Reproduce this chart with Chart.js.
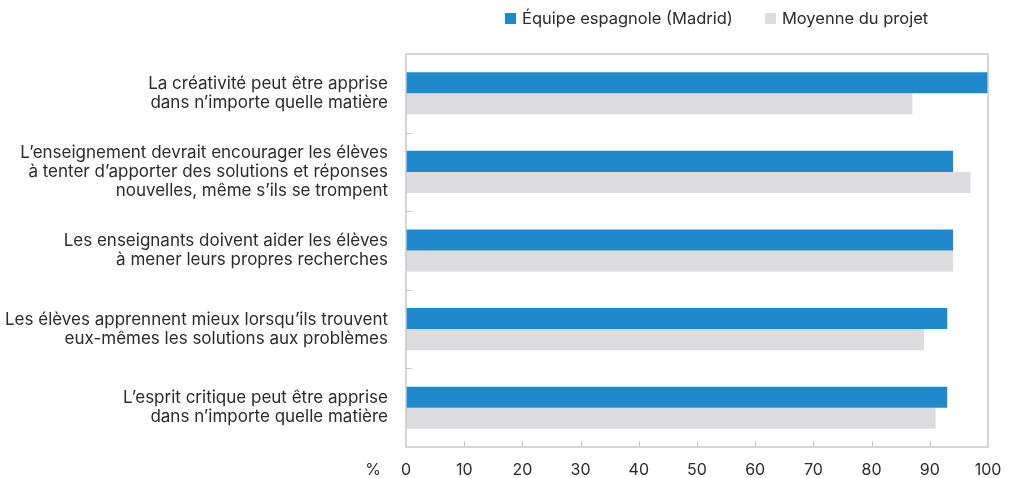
<!DOCTYPE html>
<html>
<head>
<meta charset="utf-8">
<script src="https://cdn.jsdelivr.net/npm/chart.js@4.4.1/dist/chart.umd.min.js"></script>
<style>
  body { margin: 0; background: #fff; }
  #wrap { position: relative; width: 1012px; height: 478px; }
  #legend {
    position: absolute; top: 8px; left: 505px;
    display: flex; align-items: center;
    font-family: Inter, "Liberation Sans", Arial, sans-serif; font-size: 16.5px; color: #2b2b2b;
  }
  #legend span.box { display: inline-block; width: 11px; height: 11px; margin-right: 6px; }
  #legend span.item { display: flex; align-items: center; margin-right: 32px; }
</style>
</head>
<body>
<div id="wrap">
  <canvas id="chart" width="1012" height="478"></canvas>
  <div id="legend"></div>
</div>
<script>
const categories = [
    ["La créativité peut être apprise", "dans n’importe quelle matière"],
    ["L’enseignement devrait encourager les élèves", "à tenter d’apporter des solutions et réponses", "nouvelles, même s’ils se trompent"],
    ["Les enseignants doivent aider les élèves", "à mener leurs propres recherches"],
    ["Les élèves apprennent mieux lorsqu’ils trouvent", "eux-mêmes les solutions aux problèmes"],
    ["L’esprit critique peut être apprise", "dans n’importe quelle matière"]
];
const seriesNames = ["Équipe espagnole (Madrid)", "Moyenne du projet"];
const madridValues = [100, 94, 94, 93, 93];
const projectValues = [87, 97, 94, 89, 91];
const xTicks = [0, 10, 20, 30, 40, 50, 60, 70, 80, 90, 100];
const colors = ["#1f8acb", "#dcdcde"];

const textColor = "#2b2b2b";
const fontFamily = "Inter, 'Liberation Sans', Arial, sans-serif";

// frame around the plot + short inner ticks + the "%" label
const framePlugin = {
    id: "frame",
    afterDraw(chart) {
        const ctx = chart.ctx;
        const a = chart.chartArea;
        const xs = chart.scales.x;
        const ys = chart.scales.y;
        ctx.save();
        ctx.strokeStyle = "#c8c8c8";
        ctx.lineWidth = 1.5;
        ctx.strokeRect(a.left, a.top, a.right - a.left, a.bottom - a.top);

        ctx.lineWidth = 1;
        ctx.beginPath();
        for (let i = 1; i < xTicks.length - 1; i++) {
            const x = Math.round(xs.getPixelForValue(xTicks[i])) + 0.5;
            ctx.moveTo(x, a.bottom);
            ctx.lineTo(x, a.bottom - 6);
        }
        for (let i = 0; i < categories.length - 1; i++) {
            const y = Math.round((ys.getPixelForValue(i) + ys.getPixelForValue(i + 1)) / 2) + 0.5;
            ctx.moveTo(a.left, y);
            ctx.lineTo(a.left + 6, y);
        }
        ctx.stroke();

        ctx.fillStyle = textColor;
        ctx.font = "16px " + fontFamily;
        ctx.textAlign = "center";
        ctx.textBaseline = "middle";
        ctx.fillText("%", xs.getPixelForValue(0) - 33, 470);
        ctx.restore();
    }
};

const ctx = document.getElementById("chart").getContext("2d");
const chart = new Chart(ctx, {
    type: "bar",
    data: {
        labels: categories,
        datasets: [
            { label: seriesNames[0], data: madridValues, backgroundColor: colors[0] },
            { label: seriesNames[1], data: projectValues, backgroundColor: colors[1] }
        ]
    },
    options: {
        indexAxis: "y",
        responsive: false,
        animation: false,
        layout: { padding: { top: 54, right: 24, left: 0, bottom: 0 } },
        datasets: { bar: { categoryPercentage: 0.535, barPercentage: 1, borderWidth: 0 } },
        plugins: { legend: { display: false }, tooltip: { enabled: false } },
        scales: {
            x: {
                min: 0, max: 100,
                afterBuildTicks: s => { s.ticks = xTicks.map(v => ({ value: v })); },
                afterFit: s => {
                    s.height = 31;
                    s.paddingLeft = 0; s.paddingRight = 0;
                },
                grid: { display: false, drawTicks: false },
                border: { display: false },
                ticks: { color: textColor, padding: 14, font: { family: fontFamily, size: 16 } }
            },
            y: {
                afterFit: s => {
                    s.width = 406;
                    s.paddingTop = 0; s.paddingBottom = 0;
                },
                grid: { display: false, drawTicks: false },
                border: { display: false },
                ticks: { color: textColor, padding: 18, font: { family: fontFamily, size: 17, lineHeight: 1.14 } }
            }
        }
    },
    plugins: [framePlugin]
});

const legend = document.getElementById("legend");
chart.data.datasets.forEach(ds => {
    const item = document.createElement("span");
    item.className = "item";
    item.innerHTML = `<span class="box" style="background:${ds.backgroundColor}"></span>${ds.label}`;
    legend.appendChild(item);
});
</script>
</body>
</html>
